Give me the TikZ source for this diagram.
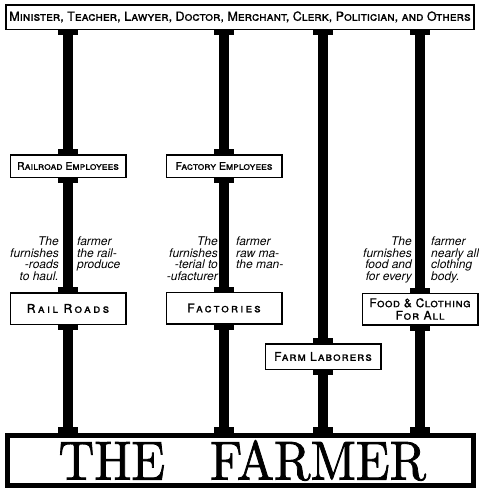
\documentclass[tikz,border=0pt]{standalone}
\usepackage{fontspec}
\setsansfont{TeX Gyre Heros}
\newfontfamily\farmerfont{lmroman10-regular}[Extension=.otf, FakeBold=1.5]
\usetikzlibrary{positioning}

\begin{document}
\begin{tikzpicture}[x=1pt, y=-1pt,
  sign/.style={rectangle, draw, line width=1.5pt, fill=white, inner sep=0pt,
    minimum width=115.5pt, minimum height=22.5pt, align=center,
    font=\sffamily\scshape\fontsize{10.5}{12}\selectfont\addfontfeature{FakeBold=1}},
  tall/.style={sign, minimum height=31.5pt,
    font=\sffamily\scshape\fontsize{12}{12.5}\selectfont\addfontfeature{LetterSpace=8,FakeBold=1}},
  post/.style={line width=10.5pt, black},
  flare/.style={line width=20pt, black},
  note/.style={inner sep=0pt, font=\sffamily\itshape\fontsize{12}{11.4}\selectfont}
]
  \useasboundingbox (0,0) rectangle (479,490);

  % Signs hanging on the posts
  \node[sign, minimum width=468pt, minimum height=24.5pt,
    font=\sffamily\scshape\fontsize{12.5}{13}\selectfont\addfontfeature{FakeBold=1}] (top) at (240,17)
    {Minister, Teacher, Lawyer, Doctor, Merchant, Clerk, Politician, and Others};
  \node[sign] (rre) at (68,166) {Railroad Employees};
  \node[sign] (fe) at (224,166) {Factory Employees};
  \node[tall] (rr) at (68,308.5) {\addfontfeature{LetterSpace=20}Rail Roads};
  \node[tall] (fa) at (224,308) {\addfontfeature{LetterSpace=18}Factories};
  \node[tall] (fc) at (420,309) {\addfontfeature{LetterSpace=4}Food \& Clothing\\For All};
  \node[tall, minimum height=25.5pt] (fl) at (323,356.5) {Farm Laborers};
  \node[draw, line width=4pt, fill=white, minimum width=467pt, minimum height=51pt,
    inner sep=0pt, font=\farmerfont\fontsize{55}{55}\selectfont] (farmer) at (240.5,460.5)
    {\raisebox{-2pt}{\scalebox{0.9}[1]{\hskip 4pt THE\hskip 50pt FARMER}}};
  \draw[line width=1.2pt] ([shift={(4.5pt,-4.5pt)}]farmer.north west) rectangle
    ([shift={(-4.5pt,4.5pt)}]farmer.south east);

  % Posts
  \draw[post] (top.south -| rre) -- (rre.north);
  \draw[post] (rre.south) -- (rr.north);
  \draw[post] (rr.south) -- (farmer.north -| rr);
  \draw[post] (top.south -| fe) -- (fe.north);
  \draw[post] (fe.south) -- (fa.north);
  \draw[post] (fa.south) -- (farmer.north -| fa);
  \draw[post] (top.south -| fl) -- (fl.north);
  \draw[post] (fl.south) -- (farmer.north -| fl);
  \draw[post] (top.south -| fc) -- (fc.north);
  \draw[post] (fc.south) -- (farmer.north -| fc);

  % Flared ends where posts meet the signs
  \foreach \b in {rre, rr, fe, fa, fl, fc} {
    \draw[flare] (\b.north) -- ++(0,-5);
    \draw[flare] (\b.south) -- ++(0,5);
  }
  \foreach \b in {rr, fa, fl, fc} {
    \draw[flare] (top.south -| \b) -- ++(0,5);
    \draw[flare] (farmer.north -| \b) -- ++(0,-6);
  }

  % Notes beside the posts
  \node[note, anchor=north east, align=right] (rrl) at (59,237)
    {The\\furnishes\\-roads\\to haul.};
  \node[note, anchor=north west, align=left] (rrr) at (77,237)
    {farmer\\the rail-\\produce};
  \node[note, anchor=north east, align=right] (fal) at (218,237)
    {The\\furnishes\\-terial to\\-ufacturer};
  \node[note, anchor=north west, align=left] (far) at (236,237)
    {farmer\\raw ma-\\the man-};
  \node[note, anchor=north east, align=right] (fcl) at (412,237)
    {The\\furnishes\\food and\\for every};
  \node[note, anchor=north west, align=left] (fcr) at (431,237)
    {farmer\\nearly all\\clothing\\body.};
\end{tikzpicture}
\end{document}
